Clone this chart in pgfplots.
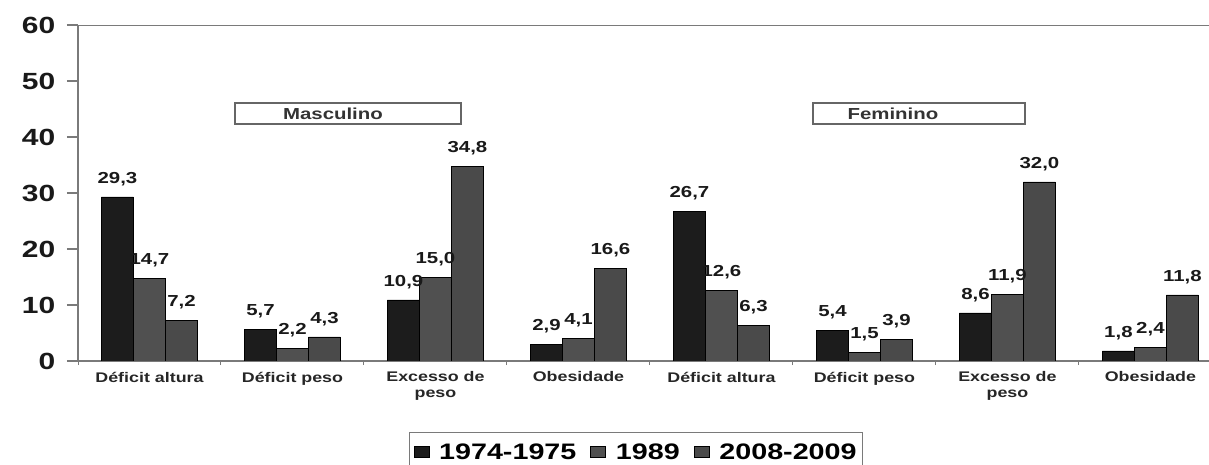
\documentclass[border=0pt]{standalone}
\usepackage{fontspec}
\setmainfont{Liberation Sans}[FakeStretch=1.28]
\usepackage{pgfplots}
\pgfplotsset{compat=1.18}
\definecolor{cA}{HTML}{1C1C1C}
\definecolor{cB}{HTML}{505050}
\definecolor{cC}{HTML}{4A4A4A}
\definecolor{axgray}{HTML}{7A7A7A}
\begin{document}
\begin{tikzpicture}
\begin{axis}[
  at={(78bp,104bp)}, anchor=south west,
  scale only axis, width=1144bp, height=336bp,
  xmin=-0.5, xmax=7.5, ymin=0, ymax=60,
  ybar=0pt, bar width=32bp,
  axis x line*=bottom, axis y line*=left,
  axis line style={draw=axgray, line width=1.3bp},
  /pgf/number format/assume math mode=true,
  ytick={0,10,...,60},
  yticklabel style={font=\bfseries\fontsize{23.5}{24}\selectfont, text=black!90, xshift=-15bp},
  tick align=outside,
  ytick style={draw=axgray, line width=1.3bp, /pgfplots/major tick length=11bp},
  xtick={-0.5,0.5,...,7.5},
  x tick label as interval,
  xtick style={draw=axgray, line width=1bp, /pgfplots/major tick length=4bp},
  xticklabels={{Déficit altura},{Déficit peso},{Excesso de\\peso},{Obesidade},{Déficit altura},{Déficit peso},{Excesso de\\peso},{Obesidade}},
  xticklabel style={font=\bfseries\fontsize{14}{16}\selectfont, align=center, text=black!85, yshift=-3bp},
  nodes near coords={\pgfmathprintnumber[fixed,fixed zerofill,precision=1,use comma]{\pgfplotspointmeta}},
  nodes near coords style={font=\bfseries\fontsize{16}{16}\selectfont, inner sep=0pt, yshift=11bp, anchor=south, text=black!90},
  legend columns=3,
  legend style={at={(0.2893,-0.2113)}, anchor=north west, draw=axgray, line width=1.3bp,
    font=\bfseries\fontsize{22.5}{22.5}\selectfont, inner ysep=9bp, inner xsep=4bp,
    /tikz/every odd column/.append style={column sep=8bp},
    /tikz/every even column/.append style={column sep=12bp}},
  legend image code/.code={\fill[#1] (0bp,-5bp) rectangle (15bp,6bp);},
]
\addplot[fill=cA, draw=black, line width=0.6bp] coordinates {(0,29.3) (1,5.7) (2,10.9) (3,2.9) (4,26.7) (5,5.4) (6,8.6) (7,1.8)};
\addplot[fill=cB, draw=black, line width=0.6bp] coordinates {(0,14.7) (1,2.2) (2,15.0) (3,4.1) (4,12.6) (5,1.5) (6,11.9) (7,2.4)};
\addplot[fill=cC, draw=black, line width=0.6bp] coordinates {(0,7.2) (1,4.3) (2,34.8) (3,16.6) (4,6.3) (5,3.9) (6,32.0) (7,11.8)};
\legend{1974-1975,1989,2008-2009}
\draw[axgray, line width=1.3bp] (axis cs:-0.5,60) -- (axis cs:7.5,60);
\draw[draw=black!60, line width=1.3bp, fill=white] (axis cs:0.598,42.3) rectangle (axis cs:2.178,46.07);
\node[font=\bfseries\fontsize{16}{16}\selectfont, text=black!80] at (axis cs:1.283,44.2) {Masculino};
\draw[draw=black!60, line width=1.3bp, fill=white] (axis cs:4.640,42.3) rectangle (axis cs:6.122,46.07);
\node[font=\bfseries\fontsize{16}{16}\selectfont, text=black!80] at (axis cs:5.199,44.2) {Feminino};
\end{axis}
\pgfresetboundingbox
\useasboundingbox (0,0) rectangle (1209bp,465bp);
\end{tikzpicture}
\end{document}
